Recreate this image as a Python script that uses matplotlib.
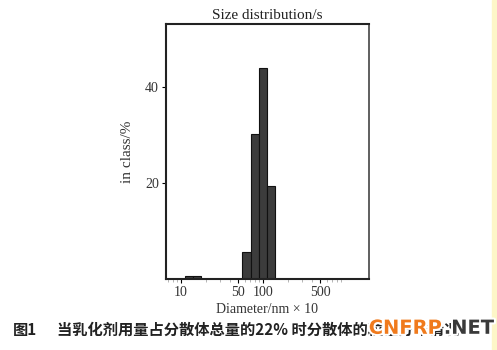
import numpy as np
import matplotlib
matplotlib.use("Agg")
import matplotlib.pyplot as plt
import matplotlib.patheffects as pe
from matplotlib.patches import Rectangle
from matplotlib.ticker import FixedLocator, NullFormatter, LogLocator

# -------------------------------------------------------
# DATA
# -------------------------------------------------------
bin_left = [11.2, 14.1, 56.2, 70.8, 89.1, 112.2]
bin_right = [14.1, 17.8, 70.8, 89.1, 112.2, 141.3]
in_class = [0.5, 0.6, 5.6, 30.1, 43.8, 19.3]

x_ticks = [10, 50, 100, 500]
x_tick_labels = ["10", "50", "100", "500"]
y_ticks = [20, 40]
y_tick_labels = ["20", "40"]

title = "Size distribution/s"
x_label = "Diameter/nm × 10"
y_label = "in class/%"
caption_fig = "图1"
caption = "当乳化剂用量占分散体总量的22% 时分散体的粒径分布情况"

# -------------------------------------------------------
# PLOT
# -------------------------------------------------------
serif = "Liberation Serif"

fig = plt.figure(figsize=(4.97, 3.5), dpi=100)
ax = fig.add_axes([0.334, 0.204, 0.408, 0.727])

widths = [r - l for l, r in zip(bin_left, bin_right)]
ax.bar(bin_left, in_class, width=widths, align="edge",
       color="#3c3c3c", edgecolor="#111111", linewidth=0.8)

ax.set_xscale("log")
ax.set_xlim(6.6, 1950)
ax.set_ylim(0, 53)

ax.xaxis.set_major_locator(FixedLocator(x_ticks))
ax.set_xticklabels(x_tick_labels)
ax.xaxis.set_minor_locator(LogLocator(base=10, subs=np.arange(2, 10)))
ax.xaxis.set_minor_formatter(NullFormatter())
ax.set_yticks(y_ticks)
ax.set_yticklabels(y_tick_labels)

ax.tick_params(axis="both", which="major", direction="out", length=3,
               width=0.8, labelsize=10, pad=2)
ax.tick_params(axis="x", which="minor", direction="out", length=2,
               width=0.5, color="#999999")
for lab in ax.get_xticklabels() + ax.get_yticklabels():
    lab.set_fontfamily(serif)
    lab.set_color("#333333")

for side in ["top", "left", "bottom"]:
    ax.spines[side].set_linewidth(1.5)
    ax.spines[side].set_color("#222222")
ax.spines["right"].set_linewidth(1.2)
ax.spines["right"].set_color("#444444")

ax.set_title(title, fontfamily=serif, fontsize=11, color="#222222", pad=4)
ax.set_xlabel(x_label, fontfamily=serif, fontsize=10, color="#333333", labelpad=3)
ax.set_ylabel(y_label, fontfamily=serif, fontsize=11, color="#333333", labelpad=8)

# caption
cjk = ["Noto Sans CJK SC", "DejaVu Sans"]
fig.text(0.026, 0.057, caption_fig, fontfamily=cjk, fontsize=11,
         fontweight="bold", color="#222222", va="center")
fig.text(0.114, 0.057, caption, fontfamily=cjk, fontsize=11,
         fontweight="bold", color="#222222", va="center")

# watermark
wm = fig.text(0.742, 0.062, "CNFRP", fontfamily="DejaVu Sans", fontsize=14,
              fontweight="bold", color="#f07a1c", va="center")
wm.set_path_effects([pe.withStroke(linewidth=3, foreground="white")])
wm2 = fig.text(0.893, 0.062, ".NET", fontfamily="DejaVu Sans", fontsize=14,
               fontweight="bold", color="#3a3a3a", va="center")
wm2.set_path_effects([pe.withStroke(linewidth=3, foreground="white")])

# yellow strip on the right edge
fig.patches.append(Rectangle((0.99, 0), 0.01, 1, transform=fig.transFigure,
                             color="#fdf6c8", zorder=-1))

fig.savefig("out.png", dpi=100)
